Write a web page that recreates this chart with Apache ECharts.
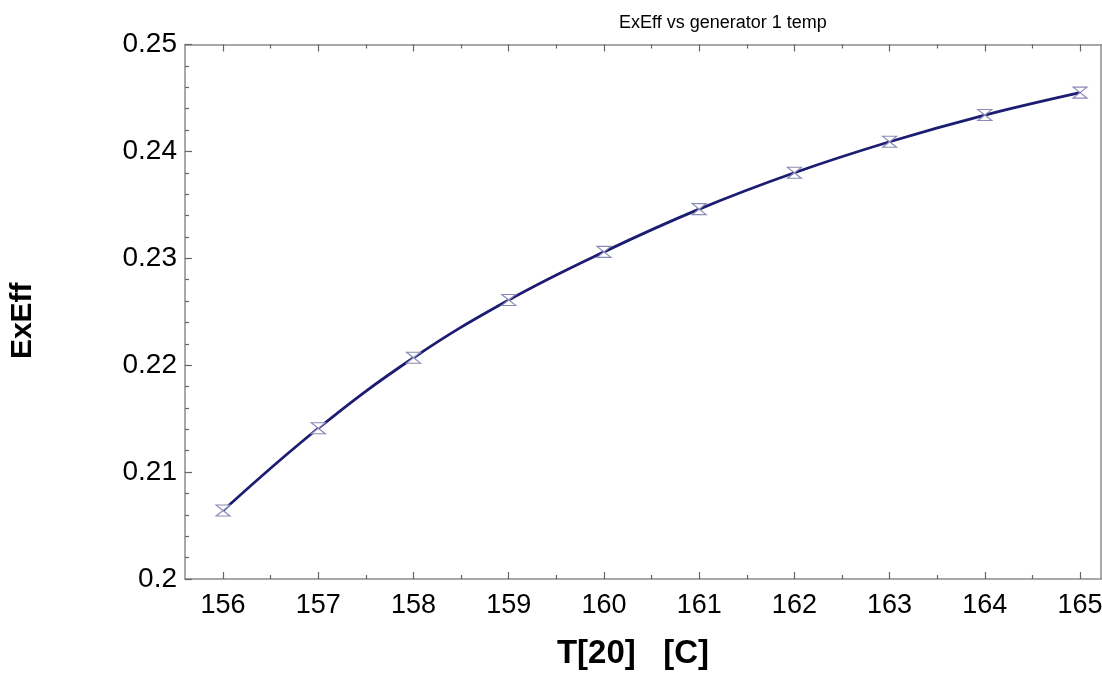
<!DOCTYPE html>
<html><head><meta charset="utf-8">
<script src="https://cdn.jsdelivr.net/npm/echarts@6/dist/echarts.min.js"></script>
<style>html,body{margin:0;padding:0;background:#fff}#c{width:1102px;height:674px}</style>
</head><body><div id="c"></div>
<script>
const temps = [156,157,158,159,160,161,162,163,164,165];
const exEff = [0.2064,0.2141,0.2207,0.2261,0.2306,0.2346,0.2380,0.2409,0.2434,0.2455];
const majorX = [156,157,158,159,160,161,162,163,164,165];
const minorX = [156.5,157.5,158.5,159.5,160.5,161.5,162.5,163.5,164.5];
const titleText = 'ExEff vs generator 1 temp';
const xName = 'T[20]   [C]';
const yName = 'ExEff';

const FONT = 'Liberation Sans, Arial, sans-serif';
const axisGrey = '#8c8c8c';
const xMin = 155.6, xMax = 165.22;

function xAx(pos, ticks, len, showLine, showLabel){
  return {
    type:'value', position:pos, min:xMin, max:xMax,
    axisLine:{show:showLine, onZero:false, lineStyle:{color:axisGrey,width:1.5}},
    axisTick:{show:true, inside:true, length:len, customValues:ticks, lineStyle:{color:'#666',width:1.2}},
    axisLabel:{show:showLabel, customValues:majorX, color:'#000', fontFamily:FONT, fontSize:27, margin:13},
    splitLine:{show:false}
  };
}
const chart = echarts.init(document.getElementById('c'));
chart.setOption({
  animation:false,
  title:{text:titleText, left:614, top:9,
    textStyle:{fontFamily:FONT, fontSize:18, fontWeight:'normal', color:'#000'}},
  grid:{left:185, right:1, top:44.5, bottom:95, outerBoundsMode:'none', containLabel:false},
  xAxis:[
    Object.assign(xAx('bottom', majorX, 7, true, true), {name:xName, nameLocation:'middle', nameGap:58,
      nameTextStyle:{fontFamily:FONT, fontSize:33, fontWeight:'bold', color:'#000', padding:[0,20,0,0]}}),
    xAx('bottom', minorX, 4, false, false),
    xAx('top', majorX, 7, true, false),
    xAx('top', minorX, 4, false, false)
  ],
  yAxis:[
    {type:'value', position:'left', min:0.2, max:0.25, interval:0.01,
     name:yName, nameLocation:'middle', nameGap:147, nameRotate:90,
     nameTextStyle:{fontFamily:FONT, fontSize:30, fontWeight:'bold', color:'#000', padding:[0,18,0,0]},
     axisLine:{show:true, onZero:false, lineStyle:{color:axisGrey,width:1.5}},
     axisTick:{show:true, inside:true, length:7, lineStyle:{color:'#666',width:1.2}},
     minorTick:{show:true, splitNumber:5, length:4, lineStyle:{color:'#666',width:1.2}},
     axisLabel:{color:'#000', fontFamily:FONT, fontSize:28, margin:8},
     splitLine:{show:false}},
    {type:'value', position:'right', min:0.2, max:0.25, interval:0.01,
     axisLine:{show:true, onZero:false, lineStyle:{color:axisGrey,width:1.5}},
     axisTick:{show:false}, axisLabel:{show:false}, splitLine:{show:false}}
  ],
  series:[{
    type:'line', xAxisIndex:0, yAxisIndex:0,
    data: temps.map((t,i)=>[t, exEff[i]]),
    smooth:0.4,
    lineStyle:{color:'#1c1c72', width:2.8},
    symbol:'path://M-1,-1 L1,-1 L-1,1 L1,1 Z',
    symbolSize:[14,11],
    itemStyle:{color:'#ffffff', borderColor:'#8a8ab8', borderWidth:1.2},
    z:3
  }]
});
</script></body></html>
